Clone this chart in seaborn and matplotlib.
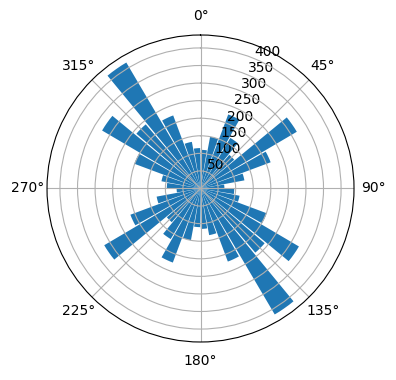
import numpy as np
import matplotlib
matplotlib.use("Agg")
import matplotlib.pyplot as plt
import seaborn as sns

# bin centres (deg) for one half-circle; the rose is symmetric under 180 deg
half_angles = [5, 15, 25, 35, 45, 55, 65, 75, 85,
               95, 105, 115, 125, 135, 145, 155, 165, 175]
half_counts = [110, 150, 225, 167, 126, 318, 213, 127, 68,
               96, 113, 201, 325, 240, 416, 222, 135, 115]

angles_deg = np.array(half_angles + [a + 180 for a in half_angles])
counts = np.array(half_counts + half_counts)
bar_width_deg = 9

blue = sns.color_palette("tab10")[0]

fig = plt.figure(figsize=(3.96, 3.8), dpi=100)
ax = fig.add_axes([0.1187, 0.1, 0.7753, 0.8079], projection="polar")
ax.set_theta_zero_location("N")
ax.set_theta_direction(-1)

ax.bar(np.deg2rad(angles_deg), counts, width=np.deg2rad(bar_width_deg),
       color=blue)
ax.set_yticks(np.arange(50, 401, 50))

fig.savefig("out.png", dpi=100)
